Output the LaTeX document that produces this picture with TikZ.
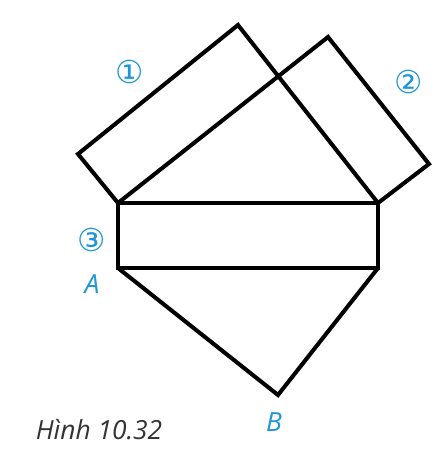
\documentclass[tikz,border=0pt]{standalone}
\usepackage{fontspec}
\setmainfont{Open Sans}
\newfontfamily\circfont{DejaVu Sans}
\usepackage{xcolor}
\usetikzlibrary{positioning}
\definecolor{labelblue}{RGB}{27,150,214}
\tikzset{
edge/.style={line width=2.3pt, line join=miter}, % the thick black sides
tag/.style={text=labelblue, font=\circfont\fontsize{18}{18}\selectfont}, % the circled numbers
pt/.style={text=labelblue, font=\itshape\fontsize{15}{15}\selectfont}, % the point names
}

\begin{document}
\begin{tikzpicture}[x=0.02cm, y=-0.02cm]
\useasboundingbox (0,0) rectangle (448,464);
% corners
\coordinate (P) at (118,203);
\coordinate (Q) at (378,203);
\coordinate (A) at (118,268);
\coordinate (R) at (378,268);
\coordinate (B) at (278,395);
\coordinate (U1) at (78,154);
\coordinate (U2) at (238,25);
\coordinate (V1) at (328,37);
\coordinate (V2) at (429,164);
% rectangles
\draw[edge] (P) -- (U1) -- (U2) -- (Q);
\draw[edge] (P) -- (V1) -- (V2) -- (Q);
\draw[edge] (P) -- (Q) -- (R) -- (A) -- cycle;
\draw[edge] (A) -- (B) -- (R);
% labels
\node[tag] (t1) at (130,72) {①};
\node[tag] (t2) at (409,82) {②};
\node[tag] (t3) at (92,240) {③};
\node[pt] (lA) at (92,284) {A};
\node[pt] (lB) at (274,422) {B};
\node[text=black!80, font=\itshape\fontsize{15}{15}\selectfont] (cap) at (99,430) {Hình 10.32};
\end{tikzpicture}
\end{document}
